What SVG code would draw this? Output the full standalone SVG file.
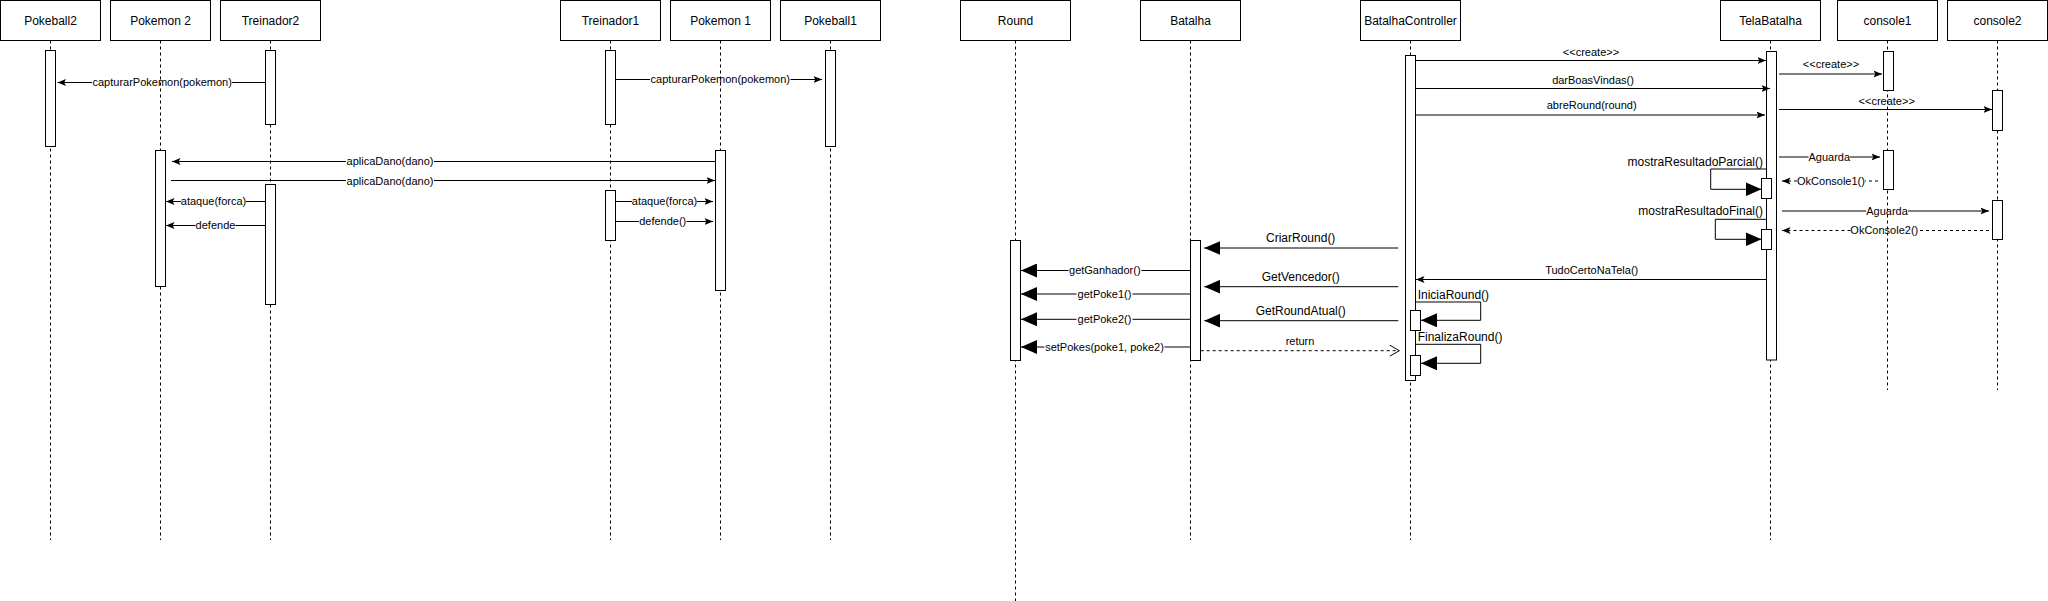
<svg xmlns="http://www.w3.org/2000/svg" width="2048" height="601" viewBox="0 0 2048 601">
<style>
.box{fill:#fff;stroke:#000;stroke-width:1}
.bar{fill:#fff;stroke:#000;stroke-width:1}
.life{stroke:#000;stroke-width:1;stroke-dasharray:3 3;fill:none}
.hd{font-family:"Liberation Sans",Arial,sans-serif;font-size:12px;fill:#000;text-anchor:middle}
.lb{font-family:"Liberation Sans",Arial,sans-serif;font-size:11px;fill:#000;text-anchor:middle}
.lb12{font-family:"Liberation Sans",Arial,sans-serif;font-size:12px;fill:#000;text-anchor:middle}
.msg{stroke:#000;stroke-width:1;fill:none;marker-end:url(#sm)}
.big{stroke:#000;stroke-width:1;fill:none;marker-end:url(#bg)}
.ret{stroke:#000;stroke-width:1;fill:none;stroke-dasharray:3 3;marker-end:url(#op)}
.dret{stroke:#000;stroke-width:1;fill:none;stroke-dasharray:3 3;marker-end:url(#sm)}
</style>
<defs>
<marker id="sm" markerUnits="userSpaceOnUse" markerWidth="9" markerHeight="8" viewBox="0 0 9 8" refX="8.5" refY="4" orient="auto"><path d="M0,0.5 L8.5,4 L0,7.5 L1.8,4 Z" fill="#000"/></marker>
<marker id="bg" markerUnits="userSpaceOnUse" markerWidth="16" markerHeight="14" viewBox="0 0 16 14" refX="16" refY="7" orient="auto"><path d="M0,0 L16,7 L0,14 Z" fill="#000"/></marker>
<marker id="op" markerUnits="userSpaceOnUse" markerWidth="11" markerHeight="12" viewBox="0 0 11 12" refX="10" refY="6" orient="auto"><path d="M0.5,0.5 L10,6 L0.5,11.5" fill="none" stroke="#000" stroke-width="1"/></marker>
</defs>
<rect width="2048" height="601" fill="#fff"/>

<g id="pokeball2">
<line class="life" x1="50.5" y1="40.5" x2="50.5" y2="540"/>
<rect class="box" x="0.5" y="0.5" width="100" height="40"/>
<text class="hd" x="50.5" y="24.5">Pokeball2</text>
<rect class="bar" x="45.5" y="50.5" width="10" height="96"/>
</g>
<g id="pokemon2">
<line class="life" x1="160.5" y1="40.5" x2="160.5" y2="540"/>
<rect class="box" x="110.5" y="0.5" width="100" height="40"/>
<text class="hd" x="160.5" y="24.5">Pokemon 2</text>
<rect class="bar" x="155.5" y="150.5" width="10" height="136"/>
</g>
<g id="treinador2">
<line class="life" x1="270.5" y1="40.5" x2="270.5" y2="540"/>
<rect class="box" x="220.5" y="0.5" width="100" height="40"/>
<text class="hd" x="270.5" y="24.5">Treinador2</text>
<rect class="bar" x="265.5" y="50.5" width="10" height="74"/>
<rect class="bar" x="265.5" y="184.5" width="10" height="120"/>
</g>
<g id="treinador1">
<line class="life" x1="610.5" y1="40.5" x2="610.5" y2="540"/>
<rect class="box" x="560.5" y="0.5" width="100" height="40"/>
<text class="hd" x="610.5" y="24.5">Treinador1</text>
<rect class="bar" x="605.5" y="50.5" width="10" height="74"/>
<rect class="bar" x="605.5" y="190.5" width="10" height="50"/>
</g>
<g id="pokemon1">
<line class="life" x1="720.5" y1="40.5" x2="720.5" y2="540"/>
<rect class="box" x="670.5" y="0.5" width="100" height="40"/>
<text class="hd" x="720.5" y="24.5">Pokemon 1</text>
<rect class="bar" x="715.5" y="150.5" width="10" height="140"/>
</g>
<g id="pokeball1">
<line class="life" x1="830.5" y1="40.5" x2="830.5" y2="540"/>
<rect class="box" x="780.5" y="0.5" width="100" height="40"/>
<text class="hd" x="830.5" y="24.5">Pokeball1</text>
<rect class="bar" x="825.5" y="50.5" width="10" height="96"/>
</g>
<g id="round">
<line class="life" x1="1015.5" y1="40.5" x2="1015.5" y2="601"/>
<rect class="box" x="960.5" y="0.5" width="110" height="40"/>
<text class="hd" x="1015.5" y="24.5">Round</text>
<rect class="bar" x="1010.5" y="240.5" width="10" height="120"/>
</g>
<g id="batalha">
<line class="life" x1="1190.5" y1="40.5" x2="1190.5" y2="540"/>
<rect class="box" x="1140.5" y="0.5" width="100" height="40"/>
<text class="hd" x="1190.5" y="24.5">Batalha</text>
<rect class="bar" x="1190.5" y="240.5" width="10" height="120"/>
</g>
<g id="batalhacontroller">
<line class="life" x1="1410.5" y1="40.5" x2="1410.5" y2="540"/>
<rect class="box" x="1360.5" y="0.5" width="100" height="40"/>
<text class="hd" x="1410.5" y="24.5">BatalhaController</text>
<rect class="bar" x="1405.5" y="55.5" width="10" height="325"/>
<rect class="bar" x="1410.5" y="310.5" width="10" height="20"/>
<rect class="bar" x="1410.5" y="355.5" width="10" height="20"/>
</g>
<g id="telabatalha">
<line class="life" x1="1770.5" y1="40.5" x2="1770.5" y2="540"/>
<rect class="box" x="1720.5" y="0.5" width="100" height="40"/>
<text class="hd" x="1770.5" y="24.5">TelaBatalha</text>
<rect class="bar" x="1766.5" y="51.5" width="10" height="308.5"/>
<rect class="bar" x="1761.5" y="178.5" width="10" height="20"/>
<rect class="bar" x="1761.5" y="229.5" width="10" height="20"/>
</g>
<g id="console1">
<line class="life" x1="1887.5" y1="40.5" x2="1887.5" y2="390"/>
<rect class="box" x="1837.5" y="0.5" width="100" height="40"/>
<text class="hd" x="1887.5" y="24.5">console1</text>
<rect class="bar" x="1883.5" y="51.5" width="10" height="39"/>
<rect class="bar" x="1883.5" y="150.5" width="10" height="39"/>
</g>
<g id="console2">
<line class="life" x1="1997.5" y1="40.5" x2="1997.5" y2="390"/>
<rect class="box" x="1947.5" y="0.5" width="100" height="40"/>
<text class="hd" x="1997.5" y="24.5">console2</text>
<rect class="bar" x="1992.5" y="90.5" width="10" height="40"/>
<rect class="bar" x="1992.5" y="200.5" width="10" height="39"/>
</g>

<g id="connectors">
<path class="msg" d="M265,82.5 H232 M92,82.5 H57.5"/>
<text class="lb" x="162.2" y="86">capturarPokemon(pokemon)</text>
<path class="msg" d="M615.5,79.5 H650 M790.5,79.5 H822"/>
<text class="lb" x="720.3" y="83">capturarPokemon(pokemon)</text>
<path class="msg" d="M715.5,161.5 H434 M346,161.5 H172"/>
<text class="lb" x="390" y="165">aplicaDano(dano)</text>
<path class="msg" d="M171,180.5 H346 M434,180.5 H715"/>
<text class="lb" x="390" y="184.5">aplicaDano(dano)</text>
<path class="msg" d="M265,201.5 H246 M181,201.5 H166"/>
<text class="lb" x="213.5" y="205">ataque(forca)</text>
<path class="msg" d="M265,225.5 H235.5 M195.5,225.5 H166"/>
<text class="lb" x="215.5" y="229">defende</text>
<path class="msg" d="M615.5,201.5 H632 M697,201.5 H713"/>
<text class="lb" x="664.5" y="205">ataque(forca)</text>
<path class="msg" d="M615.5,221.5 H639 M686.5,221.5 H713"/>
<text class="lb" x="662.7" y="225">defende()</text>

<path class="msg" d="M1415.5,60.5 H1766"/>
<text class="lb" x="1591" y="55.5">&lt;&lt;create&gt;&gt;</text>
<path class="msg" d="M1415.5,88.5 H1770"/>
<text class="lb" x="1593" y="83.5">darBoasVindas()</text>
<path class="msg" d="M1415.5,115 H1765"/>
<text class="lb" x="1591.7" y="109">abreRound(round)</text>
<path class="msg" d="M1779,74 H1882"/>
<text class="lb" x="1831" y="68">&lt;&lt;create&gt;&gt;</text>
<path class="msg" d="M1779,109.5 H1992"/>
<text class="lb" x="1886.7" y="104.5">&lt;&lt;create&gt;&gt;</text>
<path class="msg" d="M1779,157 H1808.5 M1850,157 H1880"/>
<text class="lb" x="1829.3" y="160.5">Aguarda</text>
<path class="dret" d="M1878,181 H1865 M1797,181 H1782"/>
<text class="lb" x="1831" y="184.5">OkConsole1()</text>
<path class="msg" d="M1782,211 H1866 M1908,211 H1989"/>
<text class="lb" x="1887" y="214.5">Aguarda</text>
<path class="dret" d="M1989,230.5 H1918 M1850.5,230.5 H1782"/>
<text class="lb" x="1884.3" y="234">OkConsole2()</text>

<path class="big" d="M1766.5,169 H1710.7 V189.3 H1761.5"/>
<text class="lb12" x="1763" y="165.5" style="text-anchor:end">mostraResultadoParcial()</text>
<path class="big" d="M1766.5,219.3 H1715.3 V239.3 H1761.5"/>
<text class="lb12" x="1763" y="215" style="text-anchor:end">mostraResultadoFinal()</text>
<path class="msg" d="M1766.5,279.5 H1416"/>
<text class="lb" x="1591.7" y="273.5">TudoCertoNaTela()</text>

<path class="big" d="M1398.3,248 H1204.3"/>
<text class="lb12" x="1300.7" y="241.5">CriarRound()</text>
<path class="big" d="M1398.3,286.7 H1204.3"/>
<text class="lb12" x="1300.7" y="281.3">GetVencedor()</text>
<path class="big" d="M1398.3,320.7 H1204.3"/>
<text class="lb12" x="1300.7" y="315">GetRoundAtual()</text>
<path class="ret" d="M1200.7,350.7 H1399.3"/>
<text class="lb" x="1300" y="345">return</text>

<path class="big" d="M1190.5,270.5 H1141.5 M1068.5,270.5 H1021"/>
<text class="lb" x="1104.8" y="274">getGanhador()</text>
<path class="big" d="M1190.5,294 H1132.5 M1076.5,294 H1021"/>
<text class="lb" x="1104.5" y="297.5">getPoke1()</text>
<path class="big" d="M1190.5,319.3 H1132.5 M1076.5,319.3 H1021"/>
<text class="lb" x="1104.5" y="322.8">getPoke2()</text>
<path class="big" d="M1190.5,347 H1164.5 M1044.5,347 H1021"/>
<text class="lb" x="1104.5" y="350.5">setPokes(poke1, poke2)</text>

<path class="big" d="M1415.5,302 H1480.7 V320.3 H1421"/>
<text class="lb12" x="1417.7" y="298.5" style="text-anchor:start">IniciaRound()</text>
<path class="big" d="M1415.5,344.3 H1480.7 V363.3 H1421"/>
<text class="lb12" x="1417.7" y="341" style="text-anchor:start">FinalizaRound()</text>
</g>
</svg>
